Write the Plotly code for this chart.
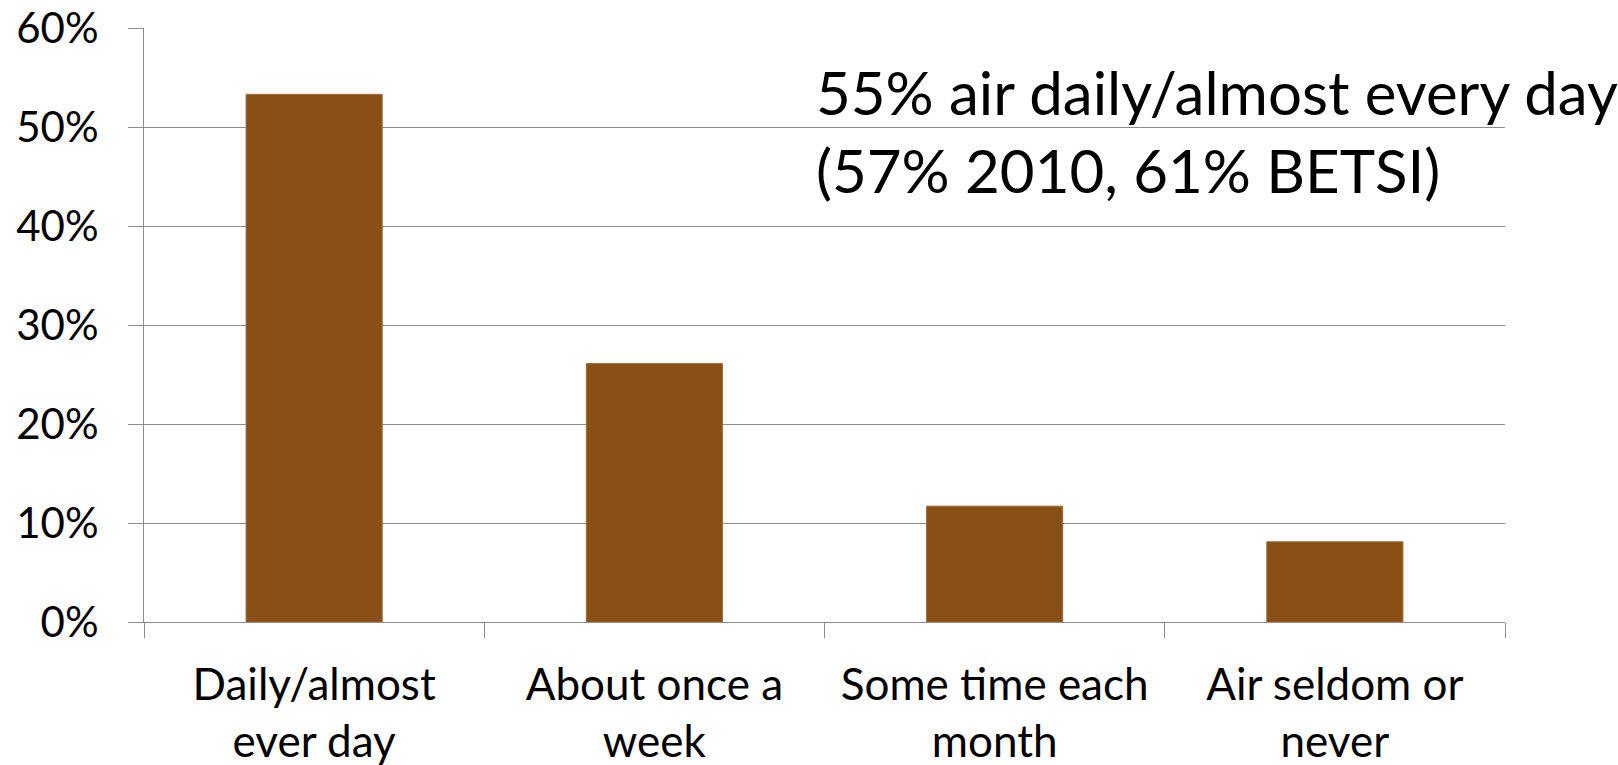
import plotly.graph_objects as go

# Survey: how often respondents air their bedroom
categories = [
    "Daily/almost<br>ever day",
    "About once a<br>week",
    "Some time each<br>month",
    "Air seldom or<br>never",
]
shares = [0.533, 0.261, 0.117, 0.081]

y_ticks = [0, 0.1, 0.2, 0.3, 0.4, 0.5, 0.6]
y_tick_labels = ["0%", "10%", "20%", "30%", "40%", "50%", "60%"]

note_text = "55% air daily/almost every day<br>(57% 2010, 61% BETSI)"

FONT = "Lato"
GRID = "#8c8c8c"

fig = go.Figure(
    go.Bar(
        x=categories,
        y=shares,
        width=0.4,
        marker=dict(color="#8A4F14", line=dict(color="#9a6a3a", width=1)),
        hoverinfo="skip",
    )
)

fig.update_layout(
    width=1618,
    height=765,
    margin=dict(l=144, r=113, t=28, b=143),
    paper_bgcolor="white",
    plot_bgcolor="white",
    showlegend=False,
    font=dict(family=FONT, color="black"),
    bargap=0.6,
)

fig.update_xaxes(
    type="category",
    tickson="boundaries",
    ticks="outside",
    ticklen=15,
    tickwidth=1,
    tickcolor=GRID,
    showgrid=False,
    showline=True,
    linecolor=GRID,
    linewidth=1,
    tickfont=dict(family=FONT, size=44, color="black"),
    ticklabelstandoff=24,
    automargin=False,
    fixedrange=True,
)

fig.update_yaxes(
    range=[0, 0.6],
    tickvals=y_ticks,
    ticktext=y_tick_labels,
    ticks="outside",
    ticklen=15,
    tickwidth=1,
    tickcolor=GRID,
    showgrid=True,
    gridcolor=GRID,
    gridwidth=1,
    showline=True,
    linecolor=GRID,
    linewidth=1,
    zeroline=False,
    tickfont=dict(family=FONT, size=42, color="black"),
    ticklabelstandoff=21,
    automargin=False,
    fixedrange=True,
)

fig.add_annotation(
    text=note_text,
    xref="paper",
    yref="paper",
    x=0.4925,
    y=0.956,
    xanchor="left",
    yanchor="top",
    align="left",
    showarrow=False,
    font=dict(family=FONT, size=60, color="black"),
)

fig.write_html("out.html")
